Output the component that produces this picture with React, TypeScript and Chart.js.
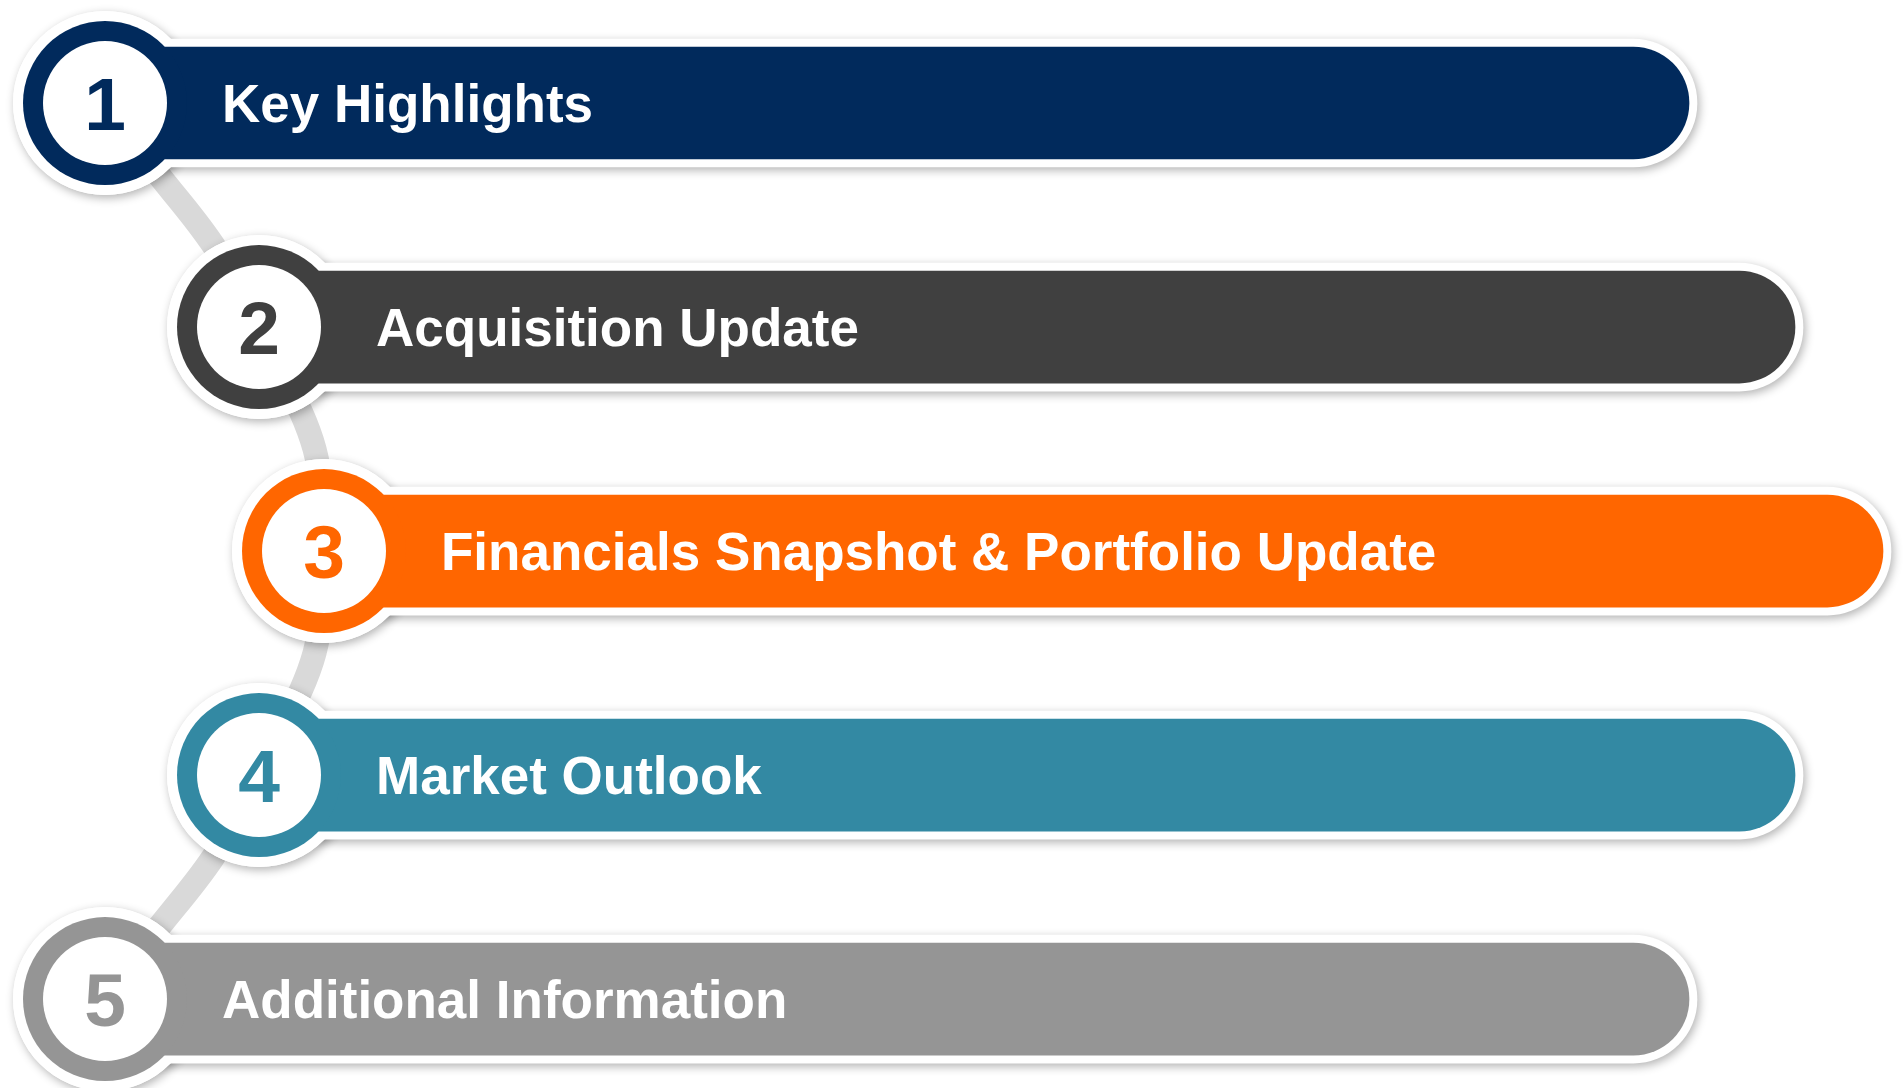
import React, { useEffect, useRef } from 'react';
import { Chart, registerables } from 'chart.js';

Chart.register(...registerables);

// ---- data ----
const itemNumbers = ['1', '2', '3', '4', '5'];
const itemLabels = [
  'Key Highlights',
  'Acquisition Update',
  'Financials Snapshot & Portfolio Update',
  'Market Outlook',
  'Additional Information',
];
const itemIndex = [0, 1, 2, 3, 4];
const barStart = [105, 259, 324, 259, 105];
const barEnd = [1689, 1795, 1883, 1795, 1689];
const itemColors = ['#012A5C', '#404040', '#FF6600', '#3389A3', '#959595'];

const FONT = "'Liberation Sans', Arial, Helvetica, sans-serif";

function setShadow(ctx: CanvasRenderingContext2D) {
  ctx.shadowColor = 'rgba(0,0,0,0.30)';
  ctx.shadowBlur = 10;
  ctx.shadowOffsetX = 2;
  ctx.shadowOffsetY = 3;
}

function circleCentres(chart: any) {
  const xs = chart.scales.x;
  const ys = chart.scales.y;
  return itemIndex.map((i) => ({ i, cx: xs.getPixelForValue(barStart[i]), cy: ys.getPixelForValue(i) }));
}

function disc(ctx: CanvasRenderingContext2D, cx: number, cy: number, r: number, color: string) {
  ctx.beginPath();
  ctx.arc(cx, cy, r, 0, Math.PI * 2);
  ctx.fillStyle = color;
  ctx.fill();
}

export default function App() {
  const ref = useRef<HTMLCanvasElement>(null);

  useEffect(() => {
    document.body.style.margin = '0';
    const canvas = ref.current;
    if (!canvas) return;

    const framePlugin = {
      id: 'frames',
      beforeDatasetDraw(chart: any, args: any) {
        const ds: any = chart.data.datasets[args.index];
        if (!ds.frame) return;
        const ctx = chart.ctx;
        // white outer rings of the badges, with shadow
        ctx.save();
        setShadow(ctx);
        circleCentres(chart).forEach(({ cx, cy }) => disc(ctx, cx, cy, 92, '#FFFFFF'));
        ctx.restore();
        // shadow for the white bar frames
        ctx.save();
        setShadow(ctx);
      },
      afterDatasetDraw(chart: any, args: any) {
        const ds: any = chart.data.datasets[args.index];
        if (!ds.frame) return;
        const ctx = chart.ctx;
        ctx.restore();
        // repaint rings without shadow so the outline reads as one union
        ctx.save();
        circleCentres(chart).forEach(({ cx, cy }) => disc(ctx, cx, cy, 92, '#FFFFFF'));
        ctx.restore();
      },
    };

    const badgePlugin = {
      id: 'badges',
      afterDatasetsDraw(chart: any) {
        const ctx = chart.ctx;
        circleCentres(chart).forEach(({ i, cx, cy }) => {
          disc(ctx, cx, cy, 82, itemColors[i]);
          disc(ctx, cx, cy, 62, '#FFFFFF');
          ctx.save();
          ctx.fillStyle = itemColors[i];
          ctx.font = `bold 75px ${FONT}`;
          ctx.textAlign = 'center';
          ctx.textBaseline = 'alphabetic';
          ctx.fillText(itemNumbers[i], cx, cy + 27);
          ctx.restore();
          ctx.save();
          ctx.fillStyle = '#FFFFFF';
          ctx.font = `bold 53px ${FONT}`;
          ctx.textAlign = 'left';
          ctx.textBaseline = 'alphabetic';
          ctx.fillText(itemLabels[i], cx + 117, cy + 19);
          ctx.restore();
        });
      },
    };

    const chart = new Chart(canvas, {
      type: 'bar',
      data: {
        datasets: [
          {
            type: 'bar',
            label: 'bars',
            data: itemIndex.map((i) => ({ x: [barStart[i], barEnd[i]], y: i })) as any,
            backgroundColor: itemColors,
            borderWidth: 0,
            borderSkipped: false,
            borderRadius: { topLeft: 0, bottomLeft: 0, topRight: 56, bottomRight: 56 },
            barThickness: 112,
            grouped: false,
            order: 1,
          } as any,
          {
            type: 'bar',
            label: 'frames',
            data: itemIndex.map((i) => ({ x: [barStart[i], barEnd[i] + 8], y: i })) as any,
            backgroundColor: '#FFFFFF',
            borderWidth: 0,
            borderSkipped: false,
            borderRadius: { topLeft: 0, bottomLeft: 0, topRight: 64, bottomRight: 64 },
            barThickness: 128,
            grouped: false,
            frame: true,
            order: 2,
          } as any,
          {
            type: 'line',
            label: 'connector',
            data: itemIndex.map((i) => ({ x: barStart[i], y: i })) as any,
            borderColor: '#D9D9D9',
            borderWidth: 24,
            tension: 0.5,
            pointRadius: 0,
            fill: false,
            indexAxis: 'y',
            order: 3,
          } as any,
        ],
      },
      options: {
        indexAxis: 'y',
        responsive: false,
        maintainAspectRatio: false,
        animation: false,
        devicePixelRatio: 1,
        events: [],
        layout: { padding: 0 },
        plugins: {
          legend: { display: false },
          tooltip: { enabled: false },
          title: { display: false },
        },
        scales: {
          x: { type: 'linear', min: 0, max: 1904, display: false, offset: false, grace: 0 },
          y: { type: 'linear', min: -0.46, max: 4.397, reverse: true, display: false, offset: false, grace: 0 },
        },
      } as any,
      plugins: [framePlugin, badgePlugin],
    });

    return () => chart.destroy();
  }, []);

  return (
    <div style={{ width: 1904, height: 1088, background: '#FFFFFF' }}>
      <canvas ref={ref} width={1904} height={1088} style={{ display: 'block' }} />
    </div>
  );
}
